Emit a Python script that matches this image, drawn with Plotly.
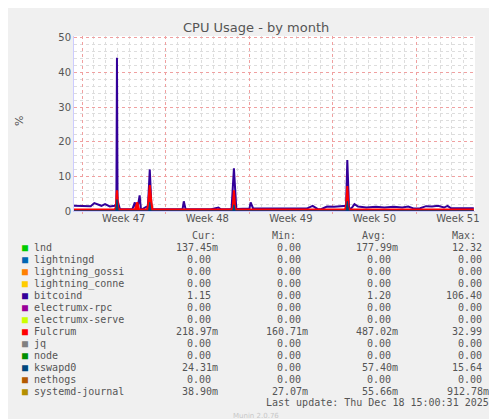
import plotly.graph_objects as go

# ---- data (x in days since start of graph) ----
btc_x = [0, 0.5, 1.0, 1.4, 1.7, 2.0, 2.3, 2.6, 3.0, 3.4, 3.55, 3.6, 3.65, 3.85, 4.5, 4.9, 5.1, 5.2, 5.3, 5.5, 5.6, 5.7, 6.2, 6.35, 6.5, 7.5, 8.5, 9.1, 9.2, 9.35, 10.5, 11.5, 12.1, 12.3, 13.2, 13.4, 13.6, 14.7, 14.8, 15.0, 15.5, 16.5, 17.5, 18.5, 19.5, 20.0, 20.4, 20.7, 21.2, 21.8, 22.4, 22.8, 22.9, 23.05, 23.3, 23.5, 23.8, 24.5, 25.3, 26.0, 26.8, 27.5, 28.0, 28.5, 29.0, 29.5, 30.0, 30.5, 31.0, 31.3, 31.6, 32.5, 33.5]
btc_y = [1.5, 1.4, 1.5, 1.4, 2.3, 1.8, 1.5, 2.0, 1.3, 1.5, 2.0, 44.2, 3.0, 0.5, 0.5, 0.6, 2.5, 0.5, 0.4, 4.5, 0.8, 0.5, 1.5, 12.0, 0.5, 0.5, 0.5, 0.6, 2.8, 0.5, 0.5, 0.5, 1.0, 0.5, 0.6, 12.3, 0.6, 0.7, 2.5, 0.8, 0.7, 0.7, 0.7, 0.7, 0.7, 1.5, 0.6, 0.5, 1.3, 1.2, 1.3, 1.5, 14.7, 0.5, 1.0, 2.0, 1.3, 1.0, 1.2, 1.0, 1.2, 1.0, 1.3, 0.7, 0.8, 1.4, 1.3, 1.5, 1.0, 1.5, 0.8, 0.8, 0.8]
ful_x = [0, 3.4, 3.5, 3.6, 3.7, 3.8, 5.1, 5.3, 5.45, 6.1, 6.2, 6.35, 6.5, 6.6, 13.2, 13.3, 13.4, 13.5, 13.6, 22.7, 22.8, 22.9, 23.0, 23.1, 33.5]
ful_y = [0.4, 0.4, 1.0, 6.0, 1.0, 0.4, 0.4, 2.5, 0.4, 0.4, 1.5, 7.5, 2.0, 0.4, 0.4, 1.0, 6.0, 1.0, 0.4, 0.4, 1.5, 7.2, 1.0, 0.4, 0.4]
ksw_x = [0, 3.5, 3.6, 3.7, 6.25, 6.35, 6.45, 13.3, 13.4, 13.5, 22.8, 22.9, 23.0, 33.5]
ksw_y = [0.05, 0.05, 3.3, 0.05, 0.05, 2.5, 0.05, 0.05, 1.8, 0.05, 0.05, 2.8, 0.05, 0.05]

week_mondays = [0.67, 7.67, 14.67, 21.67, 28.67]
week_mids = [4.17, 11.17, 18.17, 25.17, 32.17]
week_labels = ["Week 47", "Week 48", "Week 49", "Week 50", "Week 51"]

names = ["lnd", "lightningd", "lightning_gossi", "lightning_conne", "bitcoind", "electrumx-rpc",
         "electrumx-serve", "Fulcrum", "jq", "node", "kswapd0", "nethogs", "systemd-journal"]
colors = ["#00cc00", "#0066b3", "#ff8000", "#ffcc00", "#330099", "#990099", "#ccff00",
          "#ff0000", "#808080", "#008f00", "#00487d", "#b35a00", "#b38f00"]
cur = ["137.45m", "0.00", "0.00", "0.00", "1.15", "0.00", "0.00", "218.97m", "0.00", "0.00", "24.31m", "0.00", "38.90m"]
mn = ["0.00", "0.00", "0.00", "0.00", "0.00", "0.00", "0.00", "160.71m", "0.00", "0.00", "0.00", "0.00", "27.07m"]
avg = ["177.99m", "0.00", "0.00", "0.00", "1.20", "0.00", "0.00", "487.02m", "0.00", "0.00", "57.40m", "0.00", "55.66m"]
mx = ["12.32", "0.00", "0.00", "0.00", "106.40", "0.00", "0.00", "32.99", "0.00", "0.00", "15.64", "0.00", "912.78m"]

W, H = 497, 419
L, R, T, B = 66, 467, 28, 203

fig = go.Figure()
fig.add_trace(go.Scatter(x=btc_x, y=btc_y, mode="lines", line=dict(color=colors[4], width=2)))
fig.add_trace(go.Scatter(x=ful_x, y=ful_y, mode="lines", fill="tozeroy", fillcolor=colors[7], line=dict(color=colors[7], width=2)))
fig.add_trace(go.Scatter(x=ksw_x, y=ksw_y, mode="lines", fill="tozeroy", fillcolor=colors[10], line=dict(color=colors[10], width=1)))
fig.add_trace(go.Scatter(x=[0, 33.6], y=[None, None], xaxis="x2", mode="lines", showlegend=False))

def px_x(p):
    return (p - L) / (R - L)

def px_y(p):
    return (B - p) / (B - T)

font_mono = "DejaVu Sans Mono"
ann = []
def add(text, x, y, xanchor="center", size=10, family=font_mono, color="#555555", angle=0):
    ann.append(dict(text=text, x=px_x(x), y=px_y(y), xanchor=xanchor, yanchor="middle", xref="paper",
                    yref="paper", showarrow=False, textangle=angle,
                    font=dict(family=family, size=size, color=color)))

add("CPU Usage - by month", 248, 19, size=13, family="DejaVu Sans")
add("%", 11, 113, size=11, family="DejaVu Sans", angle=-90)
add("RRDTOOL / TOBI OETIKER", 487, 58, size=7, family="DejaVu Sans", color="#c8c8c8", angle=90)
for txt, xr in [("Cur:", 210), ("Min:", 290), ("Avg:", 380), ("Max:", 470)]:
    add(txt, xr, 227, xanchor="right")
for i, n in enumerate(names):
    yy = 239.7 + 12 * i
    add(f'<span style="color:{colors[i]}">■</span> {n}', 12, yy, xanchor="left")
    for vals, xr in [(cur, 212), (mn, 302), (avg, 392), (mx, 483)]:
        v = vals[i]
        shift = 0 if v.endswith("m") else -7
        add(v, xr + shift, yy, xanchor="right")
add("Last update: Thu Dec 18 15:00:31 2025", 483, 395, xanchor="right")
add("Munin 2.0.76", 248, 408, size=7, family="DejaVu Sans", color="#c8c8c8")

fig.update_layout(
    width=W, height=H, margin=dict(l=L, r=W - R, t=T, b=H - B, autoexpand=False),
    paper_bgcolor="#f0f0f0", plot_bgcolor="#ffffff", showlegend=False,
    annotations=ann,
    xaxis=dict(range=[0, 33.6], tickvals=week_mondays, showticklabels=False, ticks="outside", ticklen=2,
               tickcolor="#f0a0a0", showgrid=True, gridcolor="#f0a0a0", griddash="dot", gridwidth=1,
               minor=dict(dtick=1, tick0=0.67, showgrid=True, gridcolor="#dddddd", griddash="dot"),
               zeroline=False, showline=True, linecolor="#ccccff", fixedrange=True, automargin=False),
    xaxis2=dict(range=[0, 33.6], overlaying="x", side="bottom", tickvals=week_mids, ticktext=week_labels,
                showgrid=False, ticks="", tickfont=dict(family="DejaVu Sans", size=10, color="#555555"),
                zeroline=False, showline=False, automargin=False),
    yaxis=dict(range=[0, 50.5], tickvals=[0, 10, 20, 30, 40, 50], showgrid=True, gridcolor="#f0a0a0",
               griddash="dot", minor=dict(dtick=2, showgrid=True, gridcolor="#dddddd", griddash="dot"),
               tickfont=dict(family="DejaVu Sans", size=10, color="#555555"), zeroline=False,
               showline=True, linecolor="#ccccff", ticks="", fixedrange=True, automargin=False),
)
fig.write_html("out.html")
